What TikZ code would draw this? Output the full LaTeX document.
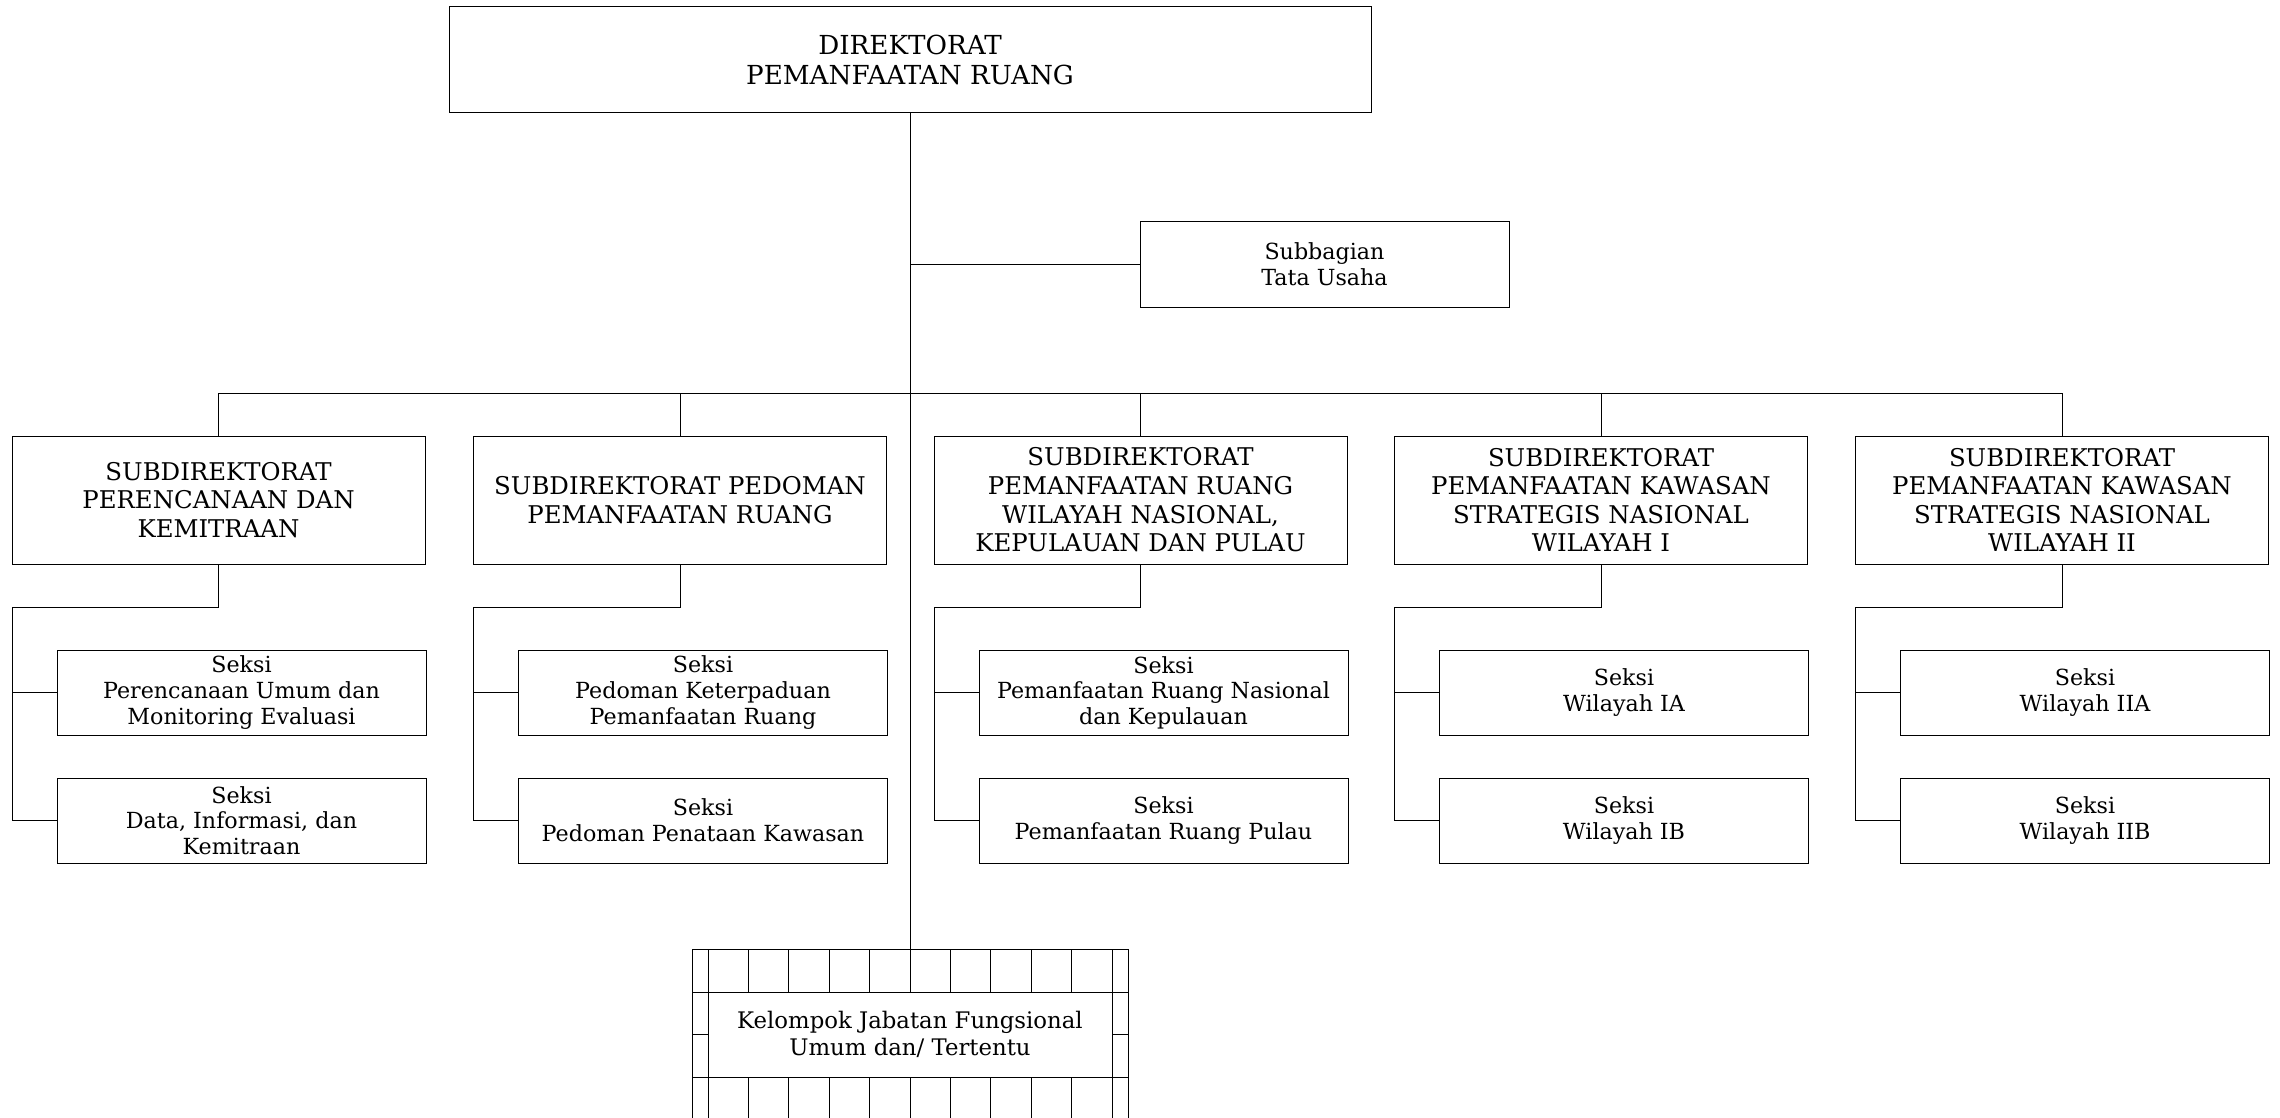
\documentclass[tikz,border=0pt]{standalone}
\usepackage{fontspec}
\setmainfont{DejaVu Serif}
\begin{document}
\begin{tikzpicture}[x=0.5pt,y=-0.5pt,
  line width=0.5pt,
  unit/.style={draw, rectangle, inner sep=0pt, outer sep=0pt, align=center, fill=white},
  topbox/.style={unit, minimum width=461pt, minimum height=53pt, font=\fontsize{13.1}{15}\selectfont},
  subbox/.style={unit, minimum width=206.5pt, minimum height=64pt, font=\fontsize{12.2}{14.3}\selectfont},
  secbox/.style={unit, minimum width=184.5pt, minimum height=42.5pt, font=\fontsize{11.1}{12.8}\selectfont},
  kelbox/.style={unit, minimum width=202pt, minimum height=42.5pt, font=\fontsize{11.4}{13.5}\selectfont}]

\useasboundingbox (0,0) rectangle (2280,1118);
\clip (0,0) rectangle (2280,1118);
\fill[white] (0,0) rectangle (2280,1118);

% director and administration
\node[topbox] (dir) at (910,60) {DIREKTORAT\\PEMANFAATAN RUANG};
\node[secbox] (tu) at (1324.5,264.5) {Subbagian\\Tata Usaha};

% sub-directorates
\node[subbox] (s1) at (218.5,500) {SUBDIREKTORAT\\PERENCANAAN DAN\\KEMITRAAN};
\node[subbox] (s2) at (680,500) {SUBDIREKTORAT PEDOMAN\\PEMANFAATAN RUANG};
\node[subbox] (s3) at (1140.5,500) {SUBDIREKTORAT\\PEMANFAATAN RUANG\\WILAYAH NASIONAL,\\KEPULAUAN DAN PULAU};
\node[subbox] (s4) at (1601,500) {SUBDIREKTORAT\\PEMANFAATAN KAWASAN\\STRATEGIS NASIONAL\\WILAYAH I};
\node[subbox] (s5) at (2062,500) {SUBDIREKTORAT\\PEMANFAATAN KAWASAN\\STRATEGIS NASIONAL\\WILAYAH II};

% sections
\node[secbox] (a1) at (241.5,692.5) {Seksi\\Perencanaan Umum dan\\Monitoring Evaluasi};
\node[secbox] (b1) at (241.5,820.5) {Seksi\\Data, Informasi, dan\\Kemitraan};
\node[secbox] (a2) at (703,692.5) {Seksi\\Pedoman Keterpaduan\\Pemanfaatan Ruang};
\node[secbox] (b2) at (703,820.5) {Seksi\\Pedoman Penataan Kawasan};
\node[secbox] (a3) at (1163.5,692.5) {Seksi\\Pemanfaatan Ruang Nasional\\dan Kepulauan};
\node[secbox] (b3) at (1163.5,820.5) {Seksi\\Pemanfaatan Ruang Pulau};
\node[secbox] (a4) at (1624,692.5) {Seksi\\Wilayah IA};
\node[secbox] (b4) at (1624,820.5) {Seksi\\Wilayah IB};
\node[secbox] (a5) at (2085,692.5) {Seksi\\Wilayah IIA};
\node[secbox] (b5) at (2085,820.5) {Seksi\\Wilayah IIB};

% functional group
\node[kelbox] (kel) at (910,1034.5) {Kelompok Jabatan Fungsional\\Umum dan/ Tertentu};

\coordinate (bus) at (910,393);
\coordinate (gridtop) at (910,949);

% main trunk and branches
\draw (dir.south) -- (gridtop);
\draw (tu.west) -- (tu.west -| dir.south);
\draw (s1.north) -- (s1.north |- bus) -- (s5.north |- bus) -- (s5.north);
\foreach \i in {2,3,4} \draw (s\i.north) -- (s\i.north |- bus);

% section connectors
\foreach \i in {1,...,5} {
  \draw (s\i.south) -- ++(0,43) -| (s\i.west |- b\i.west) -- (b\i.west);
  \draw (a\i.west) -- (a\i.west -| s\i.west);
}

% grid frame around the functional group
\draw (692,949) -- (1128,949);
\draw (692,992) -- (1128,992);
\draw (692,1077) -- (1128,1077);
\foreach \x in {692,1128} \draw (\x,949) -- (\x,1130);
\foreach \k in {0,...,10} {
  \draw ({708+40.4*\k},949) -- ({708+40.4*\k},992);
  \draw ({708+40.4*\k},1077) -- ({708+40.4*\k},1130);
}
\draw (692,1034.5) -- (kel.west);
\draw (kel.east) -- (1128,1034.5);
\end{tikzpicture}
\end{document}
